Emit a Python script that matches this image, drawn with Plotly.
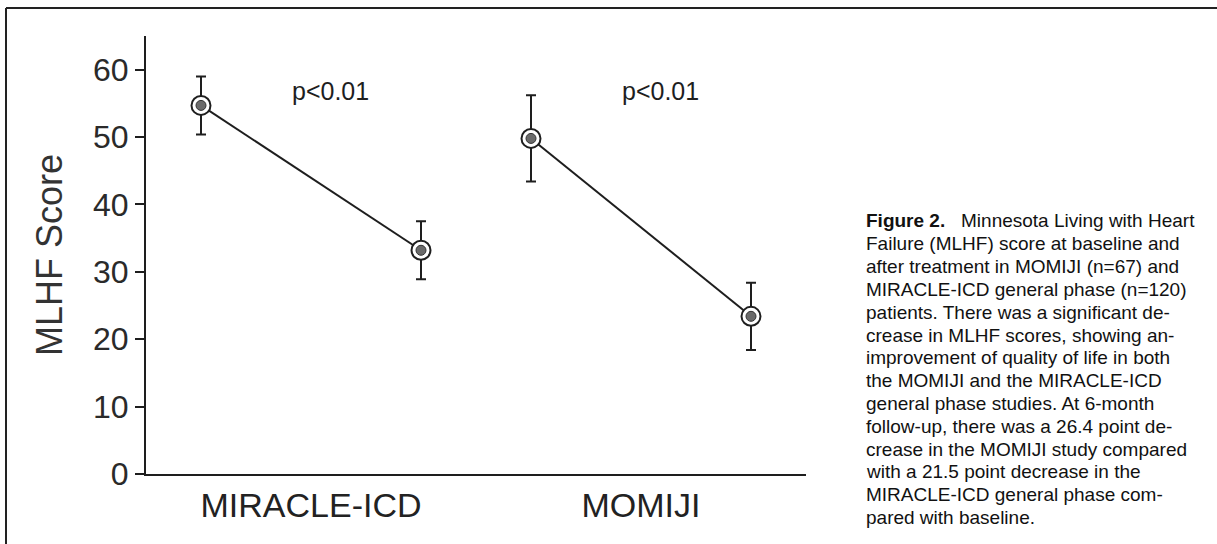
import plotly.graph_objects as go

# ---- data ----
groups = ["MIRACLE-ICD", "MOMIJI"]
baseline_mean = [54.7, 49.8]
baseline_err = [4.3, 6.4]
followup_mean = [33.2, 23.4]
followup_err = [4.3, 5.0]
p_labels = ["p<0.01", "p<0.01"]
y_ticks = [0, 10, 20, 30, 40, 50, 60]

caption_lines = [
    "<b>Figure 2.</b>   Minnesota Living with Heart",
    "Failure (MLHF) score at baseline and",
    "after treatment in MOMIJI (n=67) and",
    "MIRACLE-ICD general phase (n=120)",
    "patients. There was a significant de-",
    "crease in MLHF scores, showing an-",
    "improvement of quality of life in both",
    "the MOMIJI and the MIRACLE-ICD",
    "general phase studies. At 6-month",
    "follow-up, there was a 26.4 point de-",
    "crease in the MOMIJI study compared",
    "with a 21.5 point decrease in the",
    "MIRACLE-ICD general phase com-",
    "pared with baseline.",
]

# ---- layout geometry (pixels) ----
W, H = 1217, 544
L, R, T, B = 146, 806, 36, 474
pw, ph = R - L, B - T


def px(x):
    return (x - L) / pw


def py(y):
    return (B - y) / ph


FONT = "Liberation Sans, Arial, sans-serif"
INK = "#1e1e1e"

fig = go.Figure()

centers = [3 + 6 * i for i in range(len(groups))]
for i, g in enumerate(groups):
    xs = [centers[i] - 2, centers[i] + 2]
    ys = [baseline_mean[i], followup_mean[i]]
    es = [baseline_err[i], followup_err[i]]
    fig.add_trace(go.Scatter(
        x=xs, y=ys, mode="lines+markers",
        line=dict(color=INK, width=2),
        marker=dict(size=19, color="white", line=dict(color=INK, width=2)),
        error_y=dict(type="data", array=es, visible=True, color=INK,
                     thickness=2, width=5),
        showlegend=False, hoverinfo="skip",
    ))
    fig.add_trace(go.Scatter(
        x=xs, y=ys, mode="markers",
        marker=dict(size=10, color="#6a6a6a", line=dict(color="#333", width=1)),
        showlegend=False, hoverinfo="skip",
    ))

annotations = []
for i, lab in enumerate(p_labels):
    annotations.append(dict(
        x=centers[i] + 0.35, y=56.8, xref="x", yref="y", text=lab,
        showarrow=False, font=dict(family=FONT, size=25, color=INK),
    ))

annotations.append(dict(
    x=px(49), y=0.5, xref="paper", yref="paper", text="MLHF Score",
    xanchor="center", yanchor="middle",
    textangle=-90, showarrow=False,
    font=dict(family=FONT, size=36, color="#333"),
))

for k, line in enumerate(caption_lines):
    annotations.append(dict(
        x=px(864), y=py(221 + 22.8 * k), xref="paper", yref="paper",
        xanchor="left", yanchor="middle", text=line, showarrow=False,
        font=dict(family=FONT, size=19, color="#111"),
    ))

shapes = [
    dict(type="line", xref="paper", yref="paper",
         x0=px(6), x1=px(W), y0=py(8), y1=py(8),
         line=dict(color="#222", width=2)),
    dict(type="line", xref="paper", yref="paper",
         x0=px(6), x1=px(6), y0=py(8), y1=py(H),
         line=dict(color="#222", width=2)),
]

fig.update_layout(
    width=W, height=H,
    margin=dict(l=L, r=W - R, t=T, b=H - B, pad=0),
    paper_bgcolor="white", plot_bgcolor="white",
    annotations=annotations, shapes=shapes,
    xaxis=dict(
        range=[0, 12], tickmode="array", tickvals=centers, ticktext=groups,
        showgrid=False, zeroline=False, showline=True, linecolor=INK,
        linewidth=2, ticks="", tickfont=dict(family=FONT, size=34, color="#222"),
        fixedrange=True,
    ),
    yaxis=dict(
        range=[0, 65], tickmode="array", tickvals=y_ticks,
        showgrid=False, zeroline=False, showline=True, linecolor=INK,
        linewidth=2, ticks="outside", ticklen=9, tickwidth=2, tickcolor=INK,
        tickfont=dict(family=FONT, size=32, color="#2a2a2a"),
        fixedrange=True,
    ),
)

fig.write_html(
    "out.html",
    config={"displayModeBar": False},
    post_script="document.body.style.margin='0';document.body.style.overflow='hidden';",
)
